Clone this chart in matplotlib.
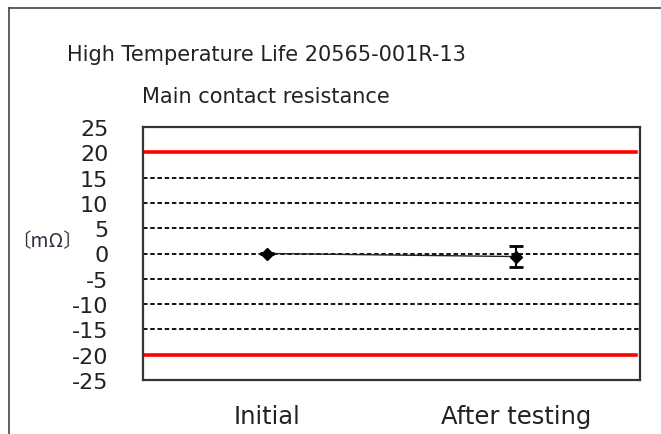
import matplotlib
matplotlib.use("Agg")
import matplotlib.pyplot as plt
from matplotlib.lines import Line2D

plt.rcParams["axes.unicode_minus"] = False

# データ
categories = ["Initial", "After testing"]
mean_vals = [0.0, -0.6]
max_vals = [0.1, 1.5]
min_vals = [-0.1, -2.6]
limit_upper = 20
limit_lower = -20
y_ticks = list(range(-25, 30, 5))

W, H = 661, 435
fig = plt.figure(figsize=(W / 100, H / 100), dpi=100)

# 外枠
fig.add_artist(Line2D([9 / W, 9 / W], [0, 1 - 9 / H], color="#444444", lw=1.2))
fig.add_artist(Line2D([9 / W, 1], [1 - 9 / H, 1 - 9 / H], color="#444444", lw=1.2))

# プロット領域 (pixel から)
left, right, top, bottom = 143, 640, 128, 381
ax = fig.add_axes([left / W, 1 - bottom / H, (right - left) / W, (bottom - top) / H])

x = list(range(1, len(categories) + 1))

# グリッド（破線）
for t in y_ticks:
    if t in (limit_upper, limit_lower, -25, 25):
        continue
    ax.axhline(t, color="black", lw=1.3, ls=(0, (2.5, 1.5)), zorder=1)

# 規格線
ax.axhline(limit_upper, color="#ff0000", lw=2.6, zorder=2, xmax=0.992)
ax.axhline(limit_lower, color="#ff0000", lw=2.6, zorder=2, xmax=0.992)

# 平均値とエラーバー
yerr = [[m - lo for m, lo in zip(mean_vals, min_vals)],
        [hi - m for m, hi in zip(mean_vals, max_vals)]]
ax.plot(x, mean_vals, color="#222222", lw=1.0, zorder=3)
ax.errorbar(x, mean_vals, yerr=yerr, fmt="D", color="black", ms=6,
            capsize=5, capthick=2, elinewidth=1.5, zorder=4)

ax.set_xlim(0.5, len(categories) + 0.5)
ax.set_ylim(-25, 25)
ax.set_yticks(y_ticks)
ax.set_xticks(x)
ax.set_xticklabels(categories)
ax.tick_params(axis="y", length=0, pad=25, labelsize=16, labelcolor="#222222")
ax.tick_params(axis="x", length=0, pad=17, labelsize=17.5, labelcolor="#222222")
for s in ax.spines.values():
    s.set_color("#333333")
    s.set_linewidth(1.6)

# タイトル
fig.text(266 / W, 1 - 55 / H, "High Temperature Life 20565-001R-13",
         ha="center", va="center", fontsize=15, color="#222222")
fig.text(266 / W, 1 - 97 / H, "Main contact resistance",
         ha="center", va="center", fontsize=15, color="#222222")

# 単位
fig.text(47 / W, 1 - 242 / H, "〔mΩ〕", ha="center", va="center", fontsize=14,
         color="#333344", family=["Noto Sans CJK JP", "DejaVu Sans"])

fig.savefig("out.png", dpi=100)
